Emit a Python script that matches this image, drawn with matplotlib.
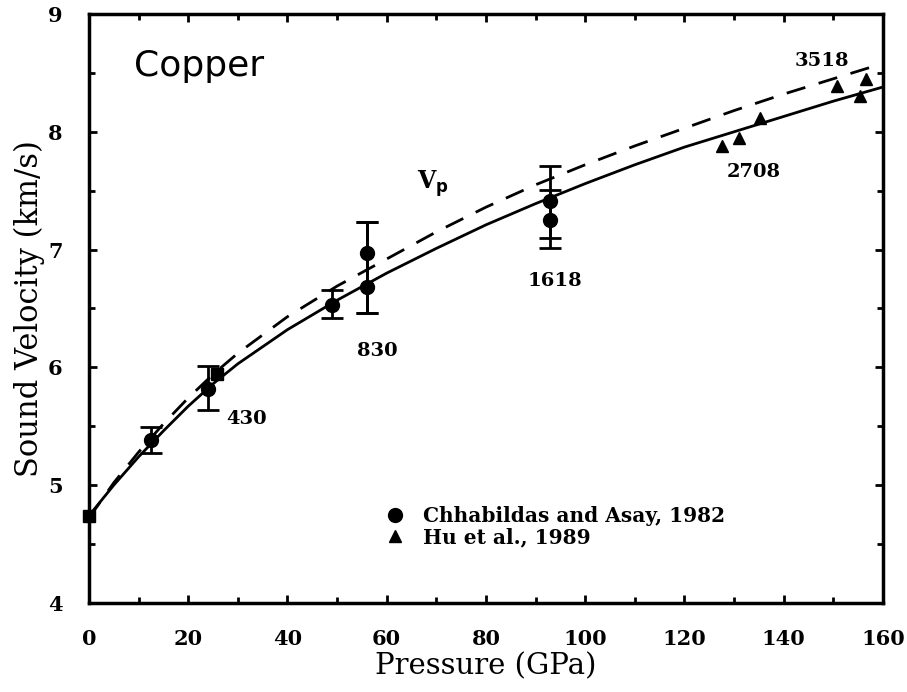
import matplotlib.pyplot as plt
from matplotlib.ticker import MultipleLocator

# curves
p_curve = [0, 5, 10, 15, 20, 25, 30, 40, 50, 60, 70, 80, 90, 100, 110, 120, 130, 140, 150, 160]
v_solid = [4.74, 5.00, 5.24, 5.46, 5.67, 5.86, 6.03, 6.32, 6.57, 6.80, 7.01, 7.21, 7.39, 7.56, 7.72, 7.87, 8.00, 8.13, 8.26, 8.38]
v_dashed = [4.72, 5.02, 5.28, 5.52, 5.74, 5.94, 6.12, 6.43, 6.69, 6.92, 7.15, 7.36, 7.55, 7.72, 7.88, 8.03, 8.18, 8.32, 8.45, 8.58]

# Chhabildas and Asay, 1982
p_ca = [12.5, 24.0, 49.0, 56.0, 56.0, 93.0, 93.0]
v_ca = [5.38, 5.82, 6.53, 6.97, 6.68, 7.41, 7.25]
lo_ca = [5.27, 5.64, 6.42, 6.46, 6.46, 7.10, 7.01]
hi_ca = [5.49, 6.01, 6.66, 7.23, 7.23, 7.71, 7.51]

# squares
p_sq = [0.0, 25.8]
v_sq = [4.74, 5.94]

# Hu et al., 1989
p_hu = [127.5, 131.0, 135.2, 150.7, 155.4, 156.6]
v_hu = [7.88, 7.95, 8.12, 8.39, 8.30, 8.45]

labels = ["430", "830", "1618", "2708", "3518"]
label_p = [27.6, 54.0, 88.4, 128.5, 142.3]
label_v = [5.56, 6.14, 6.73, 7.66, 8.60]

plt.rcParams['font.family'] = ['DejaVu Serif']

fig = plt.figure(figsize=(9.07, 6.92), dpi=100)
ax = fig.add_axes([0.098, 0.1286, 0.8755, 0.8512])

ax.plot(p_curve, v_solid, color='black', lw=2)
ax.plot(p_curve, v_dashed, color='black', lw=2, dashes=(7, 5))

yerr = [[v - l for v, l in zip(v_ca, lo_ca)], [h - v for v, h in zip(v_ca, hi_ca)]]
ax.errorbar(p_ca, v_ca, yerr=yerr, fmt='none', ecolor='black', elinewidth=2, capsize=8, capthick=2)
h1, = ax.plot(p_ca, v_ca, 'o', color='black', ms=10, label='Chhabildas and Asay, 1982')
ax.plot(p_sq, v_sq, 's', color='black', ms=9, clip_on=False, zorder=5)
h2, = ax.plot(p_hu, v_hu, '^', color='black', ms=9, label='Hu et al., 1989')

for t, x, y in zip(labels, label_p, label_v):
    ax.text(x, y, t, fontsize=14, fontweight='bold', va='center', ha='left')

ax.text(9.1, 8.56, 'Copper', fontsize=26, family=['DejaVu Sans'], va='center')
ax.text(66.2, 7.56, r'V$_\mathbf{p}$', fontsize=17, fontweight='bold', va='center')

ax.legend(handles=[h1, h2], loc='upper left', bbox_to_anchor=(0.363, 0.178), frameon=False,
          prop={'size': 14.5, 'weight': 'bold'}, handletextpad=0.9, handlelength=1.0,
          labelspacing=0.05, borderaxespad=0)

ax.set_xlim(0, 160)
ax.set_ylim(4, 9)
ax.xaxis.set_major_locator(MultipleLocator(20))
ax.xaxis.set_minor_locator(MultipleLocator(10))
ax.yaxis.set_major_locator(MultipleLocator(1))
ax.yaxis.set_minor_locator(MultipleLocator(0.5))
ax.tick_params(which='both', direction='in', top=True, right=True, width=2)
ax.tick_params(which='major', length=6, labelsize=15, pad=19)
ax.tick_params(which='minor', length=4)
for s in ax.spines.values():
    s.set_linewidth(2.5)
for lab in ax.get_xticklabels() + ax.get_yticklabels():
    lab.set_fontweight('bold')

ax.set_xlabel('Pressure (GPa)', fontsize=21, labelpad=2)
ax.set_ylabel('Sound Velocity (km/s)', fontsize=22, labelpad=2)

fig.savefig('out.png', dpi=100)
